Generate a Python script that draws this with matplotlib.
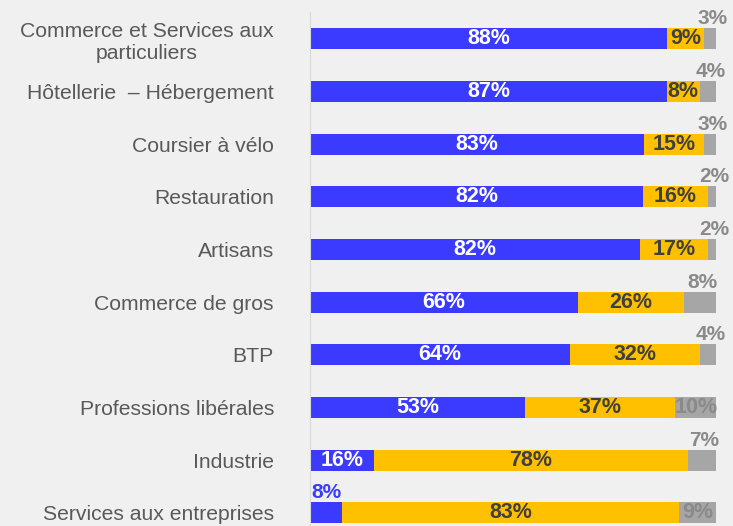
import matplotlib.pyplot as plt
import numpy as np

categories = [
    "Commerce et Services aux\nparticuliers",
    "Hôtellerie  – Hébergement",
    "Coursier à vélo",
    "Restauration",
    "Artisans",
    "Commerce de gros",
    "BTP",
    "Professions libérales",
    "Industrie",
    "Services aux entreprises",
]
blue_vals = [88, 87, 83, 82, 82, 66, 64, 53, 16, 8]
yellow_vals = [9, 8, 15, 16, 17, 26, 32, 37, 78, 83]
gray_vals = [3, 4, 3, 2, 2, 8, 4, 10, 7, 9]

# gray labels drawn inside the bar rather than above it
gray_inside = [7, 9]
# blue labels drawn above the bar
blue_above = [9]

BLUE = "#3B3BFF"
YELLOW = "#FFC000"
GRAY = "#A6A6A6"
BG = "#F0F0F0"

plt.rcParams["font.family"] = ["Liberation Sans", "DejaVu Sans"]

fig = plt.figure(figsize=(7.33, 5.26), dpi=100, facecolor=BG)
ax = fig.add_axes([310 / 733, 0, 406 / 733, 1])
ax.set_facecolor(BG)

y = np.arange(len(categories))
b = np.array(blue_vals, float)
yl = np.array(yellow_vals, float)
g = np.array(gray_vals, float)
tot = b + yl + g
bw, yw, gw = b / tot * 100, yl / tot * 100, g / tot * 100

h = 0.4
ax.barh(y, bw, height=h, color=BLUE)
ax.barh(y, yw, left=bw, height=h, color=YELLOW)
ax.barh(y, gw, left=bw + yw, height=h, color=GRAY)

fs = 15.5
for i in y:
    if i in blue_above:
        ax.text(bw[i] / 2, i - h / 2, f"{blue_vals[i]}%", ha="center", va="bottom",
                color=BLUE, fontsize=fs - 0.5, fontweight="bold")
    else:
        ax.text(bw[i] / 2, i, f"{blue_vals[i]}%", ha="center", va="center",
                color="white", fontsize=fs, fontweight="bold")
    ax.text(bw[i] + yw[i] / 2, i, f"{yellow_vals[i]}%", ha="center", va="center",
            color="#404040", fontsize=fs, fontweight="bold")
    gx = bw[i] + yw[i] + gw[i] / 2
    if i in gray_inside:
        ax.text(gx, i, f"{gray_vals[i]}%", ha="center", va="center",
                color="#8A8A8A", fontsize=fs, fontweight="bold")
    else:
        ax.text(gx + 0.6, i - h / 2, f"{gray_vals[i]}%", ha="center", va="bottom",
                color="#8A8A8A", fontsize=fs - 0.5, fontweight="bold")

ax.set_xlim(0, 100)
ax.set_ylim(9.25, -0.74)
ax.set_xticks([])
ax.set_yticks(y)
ax.set_yticklabels(categories, fontsize=15.2, color="#595959")
for lbl in ax.get_yticklabels():
    lbl.set_multialignment("center")
ax.tick_params(axis="y", length=0, pad=26)

for s in ["top", "right", "bottom"]:
    ax.spines[s].set_visible(False)
ax.spines["left"].set_color("#D9D9D9")
ax.spines["left"].set_bounds(-0.51, 9.25)

fig.savefig("out.png", dpi=100, facecolor=BG)
